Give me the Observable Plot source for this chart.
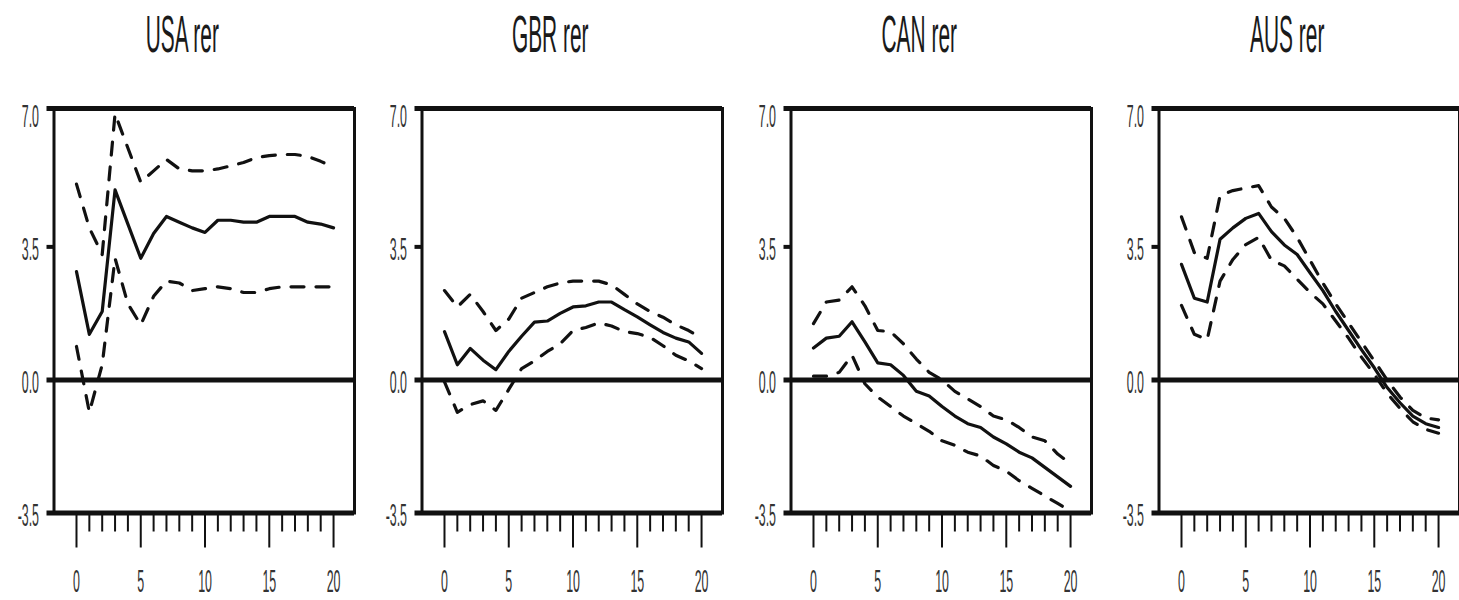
<!DOCTYPE html>
<html>
<head>
<meta charset="utf-8">
<script src="https://cdn.jsdelivr.net/npm/d3@7"></script>
<script src="https://cdn.jsdelivr.net/npm/@observablehq/plot@0.6"></script>
<style>
  html, body { margin: 0; padding: 0; background: #fff; width: 1459px; height: 600px; overflow: hidden; }
  #wrap { position: relative; width: 1459px; height: 600px; overflow: hidden; }
  #wrap > svg { position: absolute; top: 0; }
</style>
</head>
<body>
<div id="wrap"></div>
<script>
// ---------- data ----------
const periods = [0, 1, 2, 3, 4, 5, 6, 7, 8, 9, 10, 11, 12, 13, 14, 15, 16, 17, 18, 19, 20];
const panelTitles = ["USA rer", "GBR rer", "CAN rer", "AUS rer"];
const yTicks = [-3.5, 0, 3.5, 7.0];
const xMajorTicks = [0, 5, 10, 15, 20];
const xMinorTicks = [1, 2, 3, 4, 6, 7, 8, 9, 11, 12, 13, 14, 16, 17, 18, 19];

const usaResponse = [2.85, 1.2, 1.8, 5.0, 4.1, 3.2, 3.85, 4.3, 4.15, 4.0, 3.88, 4.2, 4.2, 4.15, 4.15, 4.3, 4.3, 4.3, 4.15, 4.1, 4.0];
const usaUpper    = [5.15, 4.0, 3.3, 7.0, 6.1, 5.2, 5.5, 5.8, 5.55, 5.5, 5.5, 5.55, 5.63, 5.72, 5.85, 5.9, 5.93, 5.93, 5.88, 5.75, 5.6];
const usaLower    = [0.88, -0.85, 0.4, 3.2, 2.0, 1.45, 2.2, 2.6, 2.55, 2.35, 2.4, 2.45, 2.4, 2.3, 2.3, 2.4, 2.45, 2.45, 2.45, 2.45, 2.45];

const gbrResponse = [1.27, 0.4, 0.83, 0.52, 0.27, 0.75, 1.15, 1.52, 1.55, 1.75, 1.92, 1.95, 2.05, 2.05, 1.85, 1.66, 1.45, 1.25, 1.1, 1.0, 0.7];
const gbrUpper    = [2.35, 1.92, 2.25, 1.8, 1.3, 1.6, 2.15, 2.3, 2.45, 2.55, 2.6, 2.6, 2.6, 2.5, 2.25, 2.0, 1.8, 1.65, 1.45, 1.3, 1.1];
const gbrLower    = [-0.05, -0.85, -0.65, -0.55, -0.8, -0.25, 0.3, 0.5, 0.75, 0.95, 1.3, 1.38, 1.5, 1.42, 1.27, 1.22, 1.12, 0.9, 0.65, 0.5, 0.3];

const canResponse = [0.84, 1.1, 1.15, 1.53, 1.0, 0.45, 0.4, 0.12, -0.3, -0.42, -0.7, -0.95, -1.15, -1.25, -1.5, -1.68, -1.9, -2.05, -2.3, -2.55, -2.8];
const canUpper    = [1.48, 2.05, 2.1, 2.45, 1.95, 1.3, 1.27, 0.95, 0.55, 0.2, 0.0, -0.3, -0.5, -0.7, -0.95, -1.05, -1.25, -1.5, -1.6, -1.95, -2.2];
const canLower    = [0.1, 0.1, 0.2, 0.65, -0.1, -0.45, -0.7, -0.95, -1.15, -1.35, -1.6, -1.72, -1.9, -2.0, -2.25, -2.4, -2.65, -2.85, -3.05, -3.25, -3.45];

const ausResponse = [3.04, 2.15, 2.05, 3.7, 4.0, 4.25, 4.38, 3.9, 3.55, 3.3, 2.82, 2.35, 1.8, 1.3, 0.8, 0.32, -0.2, -0.6, -0.95, -1.15, -1.25];
const ausUpper    = [4.29, 3.35, 3.2, 4.85, 4.98, 5.05, 5.11, 4.55, 4.25, 3.75, 3.15, 2.55, 2.0, 1.5, 1.0, 0.5, 0.0, -0.45, -0.8, -1.0, -1.05];
const ausLower    = [1.96, 1.2, 1.06, 2.6, 3.17, 3.56, 3.75, 3.15, 3.0, 2.65, 2.3, 2.0, 1.55, 1.1, 0.6, 0.15, -0.35, -0.75, -1.1, -1.3, -1.4];

const series = [
  [usaResponse, usaUpper, usaLower],
  [gbrResponse, gbrUpper, gbrLower],
  [canResponse, canUpper, canLower],
  [ausResponse, ausUpper, ausLower]
];

// ---------- layout / style ----------
const panelOffsets = [0, 368, 737, 1105];
const xDomain = [-1.75, 21.63];
const yDomain = [-3.5, 7.14];
const frameLines = [yDomain[0], 0, yDomain[1]];
const ink = "#111";
const titleSqueeze = 0.41;
const tickSqueeze = 0.4;

// squeeze text horizontally around its anchor (x attribute, default 0)
function condenseText(svg, titleText) {
  svg.querySelectorAll("text").forEach(t => {
    const f = t.textContent === titleText ? titleSqueeze : tickSqueeze;
    let x = parseFloat(t.getAttribute("x"));
    if (!isFinite(x)) x = 0;
    const tr = t.getAttribute("transform") || "";
    t.setAttribute("transform", `${tr} translate(${x},0) scale(${f},1) translate(${-x},0)`.trim());
  });
}

const wrap = document.getElementById("wrap");

panelTitles.forEach((title, i) => {
  const [resp, up, lo] = series[i];
  const data = periods.map((t, k) => ({t, response: resp[k], upper: up[k], lower: lo[k]}));

  const svg = Plot.plot({
    width: 369,
    height: 600,
    marginLeft: 53.5,
    marginRight: 15,
    marginTop: 108,
    marginBottom: 87.5,
    style: {fontFamily: "'Liberation Sans', Arial, sans-serif", background: "#fff", color: ink, overflow: "visible"},
    x: {domain: xDomain, label: null},
    y: {domain: yDomain, label: null},
    marks: [
      Plot.frame({stroke: ink, strokeWidth: 3}),
      Plot.ruleY(frameLines, {stroke: ink, strokeWidth: 5, insetLeft: -7}),
      // y axis: labels and the short stub tick
      Plot.axisY({ticks: yTicks, tickSize: 0, tickPadding: 15, fontSize: 31, dy: 3,
                  tickFormat: d => d.toFixed(1), label: null, fill: "#333"}),
      Plot.axisY({ticks: [3.5], tickSize: 7, tickPadding: 0, strokeWidth: 4,
                  tickFormat: () => "", label: null}),
      // x axis: major ticks with labels, minor ticks without
      Plot.axisX({ticks: xMajorTicks, tickSize: 35, tickPadding: 22, strokeWidth: 2, fontSize: 31,
                  tickFormat: d => String(d), label: null, fill: "#333"}),
      Plot.axisX({ticks: xMinorTicks, tickSize: 19, strokeWidth: 2,
                  tickFormat: () => "", label: null}),
      // impulse response and bands
      Plot.line(data, {x: "t", y: "upper", stroke: ink, strokeWidth: 3.2, strokeDasharray: "13,12"}),
      Plot.line(data, {x: "t", y: "lower", stroke: ink, strokeWidth: 3.2, strokeDasharray: "13,12"}),
      Plot.line(data, {x: "t", y: "response", stroke: ink, strokeWidth: 3.2}),
      // title
      Plot.text([title], {text: d => d, frameAnchor: "top", lineAnchor: "top", dy: -93, dx: -22,
                          fontSize: 51, fill: "#1a1a1a"})
    ]
  });
  condenseText(svg, title);
  svg.style.left = panelOffsets[i] + "px";
  wrap.appendChild(svg);
});
</script>
</body>
</html>
